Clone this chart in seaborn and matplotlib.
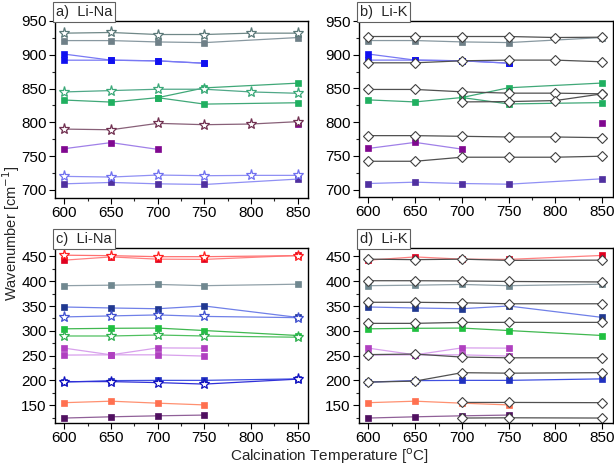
import numpy as np
import pandas as pd
import matplotlib
matplotlib.use("Agg")
import matplotlib.pyplot as plt
import seaborn as sns
from matplotlib.ticker import MultipleLocator

sns.set_theme(style="ticks", rc={'axes.facecolor': 'white', 'figure.facecolor': 'white'})
plt.rcParams['font.family'] = ['Liberation Sans', 'DejaVu Sans']

nan = np.nan
T = [600, 650, 700, 750, 800, 850]

# ---- squares shared by panels a and b ----
gray_sq = [921, 921, 919, 918, nan, 925.5]
blue_sq1 = [901, 892, 891, 887.5, nan, nan]
blue_sq2 = [892, 892, 891, 887.5, nan, nan]
green_sq1 = [833, 830, 836.5, 851, nan, 858]
green_sq2 = [nan, nan, 836.5, 827, nan, 829]
purple_sq = [761, 770, 760, nan, nan, nan]
purple_sq_b = [nan, nan, nan, nan, nan, 798]
indigo_sq = [709, 711, 709, 708, nan, 716]

# ---- stars panel a (Li-Na) ----
gray_star = [932, 933, 930, 930, 932, 932]
green_star = [845, 847, 849, 849, 845, 843]
brown_star = [790, 789, 798.5, 796.5, 797.5, 801]
violet_star = [720, 719, 722, 721, 721.5, 721.5]

# ---- diamonds panel b (Li-K) ----
dia_b1 = [927, 927, 927, 927, 925.5, 926]
dia_b2 = [888, 888, 891, 892, 892, 889.5]
dia_b3 = [848.5, 848.5, 845, 843, 843, 842]
dia_b4 = [nan, nan, 830, 830.5, 832, 842]
dia_b5 = [780, 780, 779, 778, 778, 777]
dia_b6 = [742, 742, 748, 748, 748, 749.5]

# ---- squares shared by panels c and d ----
red_sq = [442.5, 449, 444.5, 444, nan, 452]
gray_sq2 = [391, 392, 393.5, 391, nan, 394]
navy_sq = [348, 346, 344.5, 350, nan, 327]
green_sq3 = [304, 305, 305.5, 300.5, nan, 290.5]
mag_sq1 = [265, 251.5, 265.5, 265, nan, nan]
mag_sq2 = [251, 251.5, 251.5, 249, nan, nan]
dblue_sq = [196.5, 199.5, 200, 200, nan, 203]
orange_sq = [155, 158, 154, 150.5, nan, nan]
dpurple_sq = [124, 126.5, 128.5, 130, nan, nan]

# ---- stars panel c (Li-Na) ----
red_star = [452.5, 451.5, 449.5, 449.5, nan, 451.5]
blue_star = [328, 330, 332, 329, nan, 326.5]
green_star2 = [289.5, 289.5, 291.5, 289.5, nan, 287]
dblue_star = [197.5, 197.5, 195.5, 192.5, nan, 202.5]

# ---- diamonds panel d (Li-K) ----
dia_d1 = [444.5, 443.5, 444.5, 442, nan, 442.5]
dia_d2 = [401, 401, 400.5, 399.5, nan, 398.5]
dia_d3 = [357.5, 357.5, 356.5, 354.5, nan, 354.5]
dia_d4 = [315, 315, 317, 317, nan, 317]
dia_d5 = [252, 253, 247, 245.5, nan, 245.5]
dia_d6 = [196.5, 198.5, 215.5, 214.5, nan, 215.5]
dia_d7 = [nan, nan, 155.5, 155.5, nan, 155]
dia_d8 = [nan, nan, 124, 124.5, nan, 124]

# (values, marker colour, line colour)
squares_ab = [
    (gray_sq, '#6f8088', '#8898a0'),
    (blue_sq1, '#1010f0', '#7878f4'),
    (blue_sq2, '#1010f0', '#7878f4'),
    (green_sq1, '#20b060', '#40a878'),
    (green_sq2, '#20b060', '#40a878'),
    (purple_sq, '#800890', '#a080e8'),
    (purple_sq_b, '#800890', '#a080e8'),
    (indigo_sq, '#5030a0', '#9090f4'),
]
stars_a = [
    (gray_star, '#5a7878', '#708888'),
    (green_star, '#3aa878', '#50a888'),
    (brown_star, '#703050', '#886078'),
    (violet_star, '#7070f0', '#9090f4'),
]
dias_b = [dia_b1, dia_b2, dia_b3, dia_b4, dia_b5, dia_b6]

squares_cd = [
    (red_sq, '#e00020', '#ff8080'),
    (gray_sq2, '#708890', '#90a0a8'),
    (navy_sq, '#203890', '#7080e8'),
    (green_sq3, '#20c040', '#40b850'),
    (mag_sq1, '#b040c0', '#d8a0ec'),
    (mag_sq2, '#b040c0', '#d8a0ec'),
    (dblue_sq, '#2030c0', '#4050e0'),
    (orange_sq, '#ff7050', '#ff9070'),
    (dpurple_sq, '#501060', '#906098'),
]
stars_c = [
    (red_star, '#ff2020', '#ff7070'),
    (blue_star, '#4050d0', '#7080e8'),
    (green_star2, '#30b050', '#50c060'),
    (dblue_star, '#1010c0', '#3030d8'),
]
dias_d = [dia_d1, dia_d2, dia_d3, dia_d4, dia_d5, dia_d6, dia_d7, dia_d8]


def draw(ax, vals, mcol, lcol, kind):
    df = pd.DataFrame({'T': T, 'v': vals}).dropna()
    if kind == 'sq':
        kw = dict(marker='s', markersize=4.2, markerfacecolor=mcol,
                  markeredgecolor=mcol, markeredgewidth=0.5)
    elif kind == 'star':
        kw = dict(marker='*', markersize=8, markerfacecolor='white',
                  markeredgecolor=mcol, markeredgewidth=0.9)
    else:
        kw = dict(marker='D', markersize=5, markerfacecolor='white',
                  markeredgecolor='#404040', markeredgewidth=0.8)
    sns.lineplot(data=df, x='T', y='v', ax=ax, color=lcol, linewidth=0.9,
                 sort=False, **kw)


fig = plt.figure(figsize=(6.14, 4.66), dpi=100)
W, H = 614, 466
def axrect(l, r, t, b):
    return [l / W, 1 - b / H, (r - l) / W, (b - t) / H]

ax_a = fig.add_axes(axrect(55, 308, 21, 198))
ax_b = fig.add_axes(axrect(359, 612.5, 21, 197))
ax_c = fig.add_axes(axrect(55, 308, 248, 423))
ax_d = fig.add_axes(axrect(359, 612.5, 248, 423))

for vals, m, l in squares_ab:
    draw(ax_a, vals, m, l, 'sq')
    draw(ax_b, vals, m, l, 'sq')
for vals, m, l in stars_a:
    draw(ax_a, vals, m, l, 'star')
for vals in dias_b:
    draw(ax_b, vals, None, '#505050', 'dia')

for vals, m, l in squares_cd:
    draw(ax_c, vals, m, l, 'sq')
    draw(ax_d, vals, m, l, 'sq')
for vals, m, l in stars_c:
    draw(ax_c, vals, m, l, 'star')
for vals in dias_d:
    draw(ax_d, vals, None, '#505050', 'dia')

labels = {ax_a: 'a)  Li-Na', ax_b: 'b)  Li-K', ax_c: 'c)  Li-Na', ax_d: 'd)  Li-K'}
for ax in (ax_a, ax_b, ax_c, ax_d):
    ax.set_facecolor('white')
    ax.grid(False)
    ax.set_xlim(590, 861)
    ax.xaxis.set_major_locator(MultipleLocator(50))
    ax.xaxis.set_minor_locator(MultipleLocator(25))
    ax.yaxis.set_major_locator(MultipleLocator(50))
    ax.yaxis.set_minor_locator(MultipleLocator(25))
    ax.tick_params(which='major', direction='out', length=4, width=0.8,
                   labelsize=11, colors='black', pad=2)
    ax.tick_params(which='minor', direction='out', length=2.5, width=0.8)
    ax.set_xlabel('')
    ax.set_ylabel('')
    for s in ax.spines.values():
        s.set_linewidth(1.0)
        s.set_color('black')
    ax.text(0.004, 1.012, labels[ax], transform=ax.transAxes, fontsize=10.5,
            ha='left', va='bottom',
            bbox=dict(facecolor='white', edgecolor='#606060', linewidth=0.8,
                      boxstyle='square,pad=0.2'))

ax_a.set_ylim(688, 950)
ax_b.set_ylim(689, 950)
ax_c.set_ylim(114, 467)
ax_d.set_ylim(114, 467)

fig.text(0.018, 0.5, 'Wavenumber [cm$^{-1}$]', rotation=90, ha='center',
         va='center', fontsize=10.5)
fig.text(0.537, 0.022, 'Calcination Temperature [$^{\\mathrm{o}}$C]', ha='center',
         va='center', fontsize=11)

fig.savefig('out.png', dpi=100, facecolor='white')
